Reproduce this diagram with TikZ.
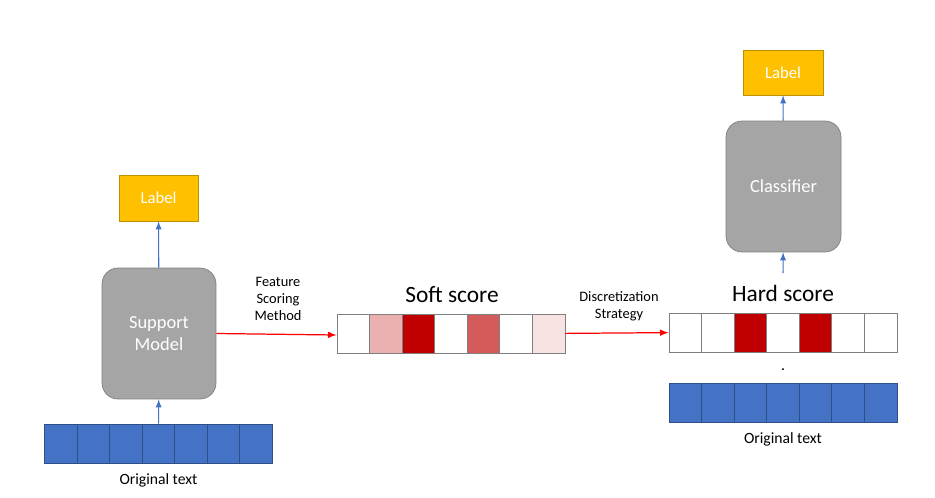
\documentclass[tikz,border=0pt]{standalone}
\usepackage{fontspec}
\setmainfont{Carlito}
\usetikzlibrary{arrows}

\definecolor{labelfill}{HTML}{FFC000}
\definecolor{labeldraw}{HTML}{BF9000}
\definecolor{modelfill}{HTML}{A5A5A5}
\definecolor{modeldraw}{HTML}{7F7F7F}
\definecolor{tokblue}{HTML}{4472C4}
\definecolor{tokdraw}{HTML}{2F4F8A}
\definecolor{scorered}{HTML}{C00000}
\definecolor{scoremid}{HTML}{D35B5B}
\definecolor{scorepink}{HTML}{EBB1B1}
\definecolor{scorelight}{HTML}{F8E2E2}
\definecolor{arrowred}{HTML}{FF0000}

\tikzset{
  label box/.style={draw=labeldraw, fill=labelfill, text=white, inner sep=0pt,
    font=\fontsize{9.5}{10}\selectfont},
  model box/.style={draw=modeldraw, fill=modelfill, text=white, rounded corners=0.32cm,
    inner sep=0pt, align=center, font=\fontsize{10.5}{13}\selectfont,
    minimum width=2.28cm, minimum height=2.62cm},
  cell/.style={draw=modeldraw, fill=white, inner sep=0pt, line width=0.5pt,
    minimum width=0.651cm, minimum height=0.78cm},
  token/.style={cell, draw=tokdraw, fill=tokblue},
  small/.style={align=center, font=\fontsize{8.2}{9.6}\selectfont},
  title/.style={font=\fontsize{13.3}{15}\selectfont},
}

\begin{document}
\begin{tikzpicture}[x=0.02cm, y=-0.02cm]
    \useasboundingbox (0,0) rectangle (935,497);

    % partie gauche
    \node[label box, minimum width=1.58cm, minimum height=0.92cm] (lab1) at (158.5,198) {Label};
    \node[model box] (sup) at (159,333.5) {Support\\Model};

    \node[token] (t1) at (61.2,443.5) {};
    \node[token] (t2) at (93.6,443.5) {};
    \node[token] (t3) at (126.1,443.5) {};
    \node[token] (t4) at (158.5,443.5) {};
    \node[token] (t5) at (190.9,443.5) {};
    \node[token] (t6) at (223.4,443.5) {};
    \node[token] (t7) at (255.8,443.5) {};
    \node[small, font=\fontsize{8.9}{10}\selectfont] (orig1) at (158.5,480) {Original text};

    % soft score
    \node[title] (soft) at (452,295) {Soft score};
    \node[cell] (s1) at (353.3,333.5) {};
    \node[cell, fill=scorepink] (s2) at (385.9,333.5) {};
    \node[cell, fill=scorered] (s3) at (418.4,333.5) {};
    \node[cell] (s4) at (451,333.5) {};
    \node[cell, fill=scoremid] (s5) at (483.6,333.5) {};
    \node[cell] (s6) at (516.1,333.5) {};
    \node[cell, fill=scorelight] (s7) at (548.7,333.5) {};

    \node[small] (fsm) at (278,299) {Feature\\Scoring\\Method};
    \node[small] (ds) at (619,306) {Discretization\\Strategy};

    % hard score
    \node[title] (hard) at (783,293) {Hard score};
    \node[cell] (h1) at (685.3,332.5) {};
    \node[cell] (h2) at (717.9,332.5) {};
    \node[cell, fill=scorered] (h3) at (750.4,332.5) {};
    \node[cell] (h4) at (783,332.5) {};
    \node[cell, fill=scorered] (h5) at (815.6,332.5) {};
    \node[cell] (h6) at (848.1,332.5) {};
    \node[cell] (h7) at (880.7,332.5) {};
    \node[anchor=base, font=\fontsize{9}{10}\selectfont] (dot) at (783,370) {.};

    \node[token] (r1) at (685.3,402.5) {};
    \node[token] (r2) at (717.9,402.5) {};
    \node[token] (r3) at (750.4,402.5) {};
    \node[token] (r4) at (783,402.5) {};
    \node[token] (r5) at (815.6,402.5) {};
    \node[token] (r6) at (848.1,402.5) {};
    \node[token] (r7) at (880.7,402.5) {};
    \node[small, font=\fontsize{8.9}{10}\selectfont] (orig2) at (783,439) {Original text};

    % partie droite
    \node[model box, minimum width=2.3cm] (cls) at (783.5,186.5) {Classifier};
    \node[label box, minimum width=1.6cm, minimum height=0.9cm] (lab2) at (783,72.5) {Label};
    \coordinate (c) at (783,273);

    \draw[->, >=latex, tokblue, line width=0.6pt] (t4) edge (sup);
    \draw[->, >=latex, tokblue, line width=0.6pt] (sup) edge (lab1);
    \draw[->, >=latex, arrowred, line width=0.7pt] (sup.east) -- ([yshift=-0.03cm]s1.west);
    \draw[->, >=latex, arrowred, line width=0.7pt] (s7) edge (h1);
    \draw[->, >=latex, tokblue, line width=0.6pt] (c) -- (cls);
    \draw[->, >=latex, tokblue, line width=0.6pt] (cls) edge (lab2);
  \end{tikzpicture}
\end{document}
